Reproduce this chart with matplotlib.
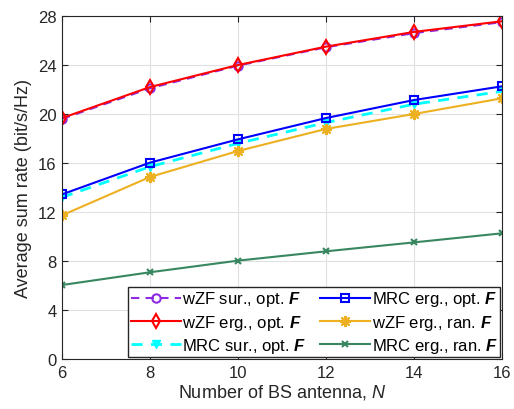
import matplotlib
matplotlib.use("Agg")
import matplotlib.pyplot as plt

plt.rcParams["font.family"] = ["Liberation Sans", "DejaVu Sans"]
plt.rcParams["mathtext.fontset"] = "custom"
plt.rcParams["mathtext.rm"] = "Liberation Sans"
plt.rcParams["mathtext.it"] = "Liberation Sans:italic"
plt.rcParams["mathtext.bf"] = "Liberation Sans:bold"
plt.rcParams["mathtext.bfit"] = "Liberation Sans:italic:bold"

N = [6, 8, 10, 12, 14, 16]
wzf_sur_opt = [19.6, 22.1, 23.95, 25.45, 26.6, 27.5]
wzf_erg_opt = [19.67, 22.2, 24.0, 25.5, 26.7, 27.57]
mrc_sur_opt = [13.2, 15.7, 17.6, 19.3, 20.8, 21.85]
mrc_erg_opt = [13.44, 16.03, 17.93, 19.67, 21.14, 22.26]
wzf_erg_ran = [11.73, 14.86, 16.98, 18.78, 20.0, 21.28]
mrc_erg_ran = [6.04, 7.08, 8.03, 8.79, 9.52, 10.26]

F = r"$\mathbfit{F}$"
dark = (0.15, 0.15, 0.15)

fig = plt.figure(figsize=(5.14, 4.10), dpi=100)
ax = fig.add_axes([62 / 514, 50 / 410, 440 / 514, 343 / 410])

purple = (0.55, 0.17, 0.89)
yellow = (0.93, 0.69, 0.13)
green = (0.22, 0.53, 0.38)

# asterisk like matlab '*'
h1, = ax.plot(N, wzf_sur_opt, "--", color=purple, lw=1.5, marker="o", ms=6,
              mfc="none", mew=1.5, dashes=(4, 3))
h2, = ax.plot(N, wzf_erg_opt, "-", color="red", lw=1.5, marker="d", ms=7,
              mfc="none", mew=1.5)
h3, = ax.plot(N, mrc_sur_opt, "--", color="cyan", lw=2, marker="v", ms=6,
              mfc="cyan", dashes=(4, 3))
h4, = ax.plot(N, mrc_erg_opt, "-", color="blue", lw=1.5, marker="s", ms=6,
              mfc="none", mew=1.5)
h5, = ax.plot(N, wzf_erg_ran, "-", color=yellow, lw=1.5, marker=(8, 2, 0), ms=8,
              mew=1.5)
h6, = ax.plot(N, mrc_erg_ran, "-", color=green, lw=1.5, marker="x", ms=5,
              mew=1.5)

ax.set_xlim(6, 16)
ax.set_ylim(0, 28)
ax.set_xticks(range(6, 17, 2))
ax.set_yticks(range(0, 29, 4))
ax.grid(True, color=(0.88, 0.88, 0.88), lw=0.8)
ax.tick_params(direction="in", top=True, right=True, labelsize=12, colors=dark,
               length=4, pad=4)
for s in ax.spines.values():
    s.set_color(dark)
ax.set_xlabel(r"Number of BS antenna, $\mathit{N}$", fontsize=13, color=dark, labelpad=2)
ax.set_ylabel("Average sum rate (bit/s/Hz)", fontsize=13, color=dark, labelpad=4)

ax.legend([h1, h2, h3, h4, h5, h6],
          ["wZF sur., opt. " + F, "wZF erg., opt. " + F, "MRC sur., opt. " + F,
           "MRC erg., opt. " + F, "wZF erg., ran. " + F, "MRC erg., ran. " + F],
          ncol=2, loc="lower right", fontsize=12, fancybox=False, framealpha=1,
          edgecolor=dark, borderpad=0.15, labelspacing=0.25,
          handlelength=3.0, handletextpad=0.1, columnspacing=0.8, borderaxespad=0.1)

fig.savefig("out.png", dpi=100)
